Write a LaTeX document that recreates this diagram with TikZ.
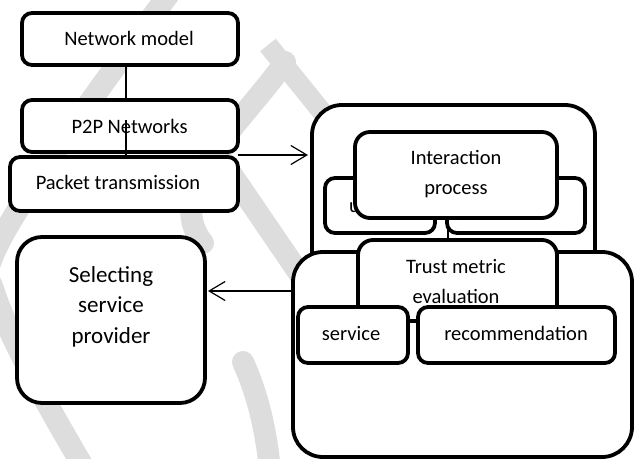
\documentclass[tikz,border=0pt]{standalone}
\usepackage{fontspec}
\setmainfont{Carlito}
\usetikzlibrary{arrows.meta}
\definecolor{wm}{RGB}{221,221,221}
\tikzset{
  box/.style={draw, line width=3.8pt, fill=white, rounded corners=#1,
    anchor=north west, inner sep=0pt, outer sep=0pt},
  box/.default=10pt,
  lbl/.style={font=\fontsize{20.5}{30}\selectfont, align=center, anchor=base, inner sep=0pt},
  biglbl/.style={font=\fontsize{23}{30.5}\selectfont, align=center, anchor=base, inner sep=0pt},
  link/.style={line width=1.4pt},
  flow/.style={line width=1.2pt, -{Straight Barb[length=16pt,width=19pt,line width=1.2pt]}},
  wmark/.style={draw=wm, line width=22pt},
}
\begin{document}
\begin{tikzpicture}[x=1pt, y=-1pt]
\useasboundingbox (0,0) rectangle (637,458);

% faint background logo
\begin{scope}
  \clip (0,0) rectangle (637,458);
  \draw[wmark] plot[smooth, tension=0.7] coordinates
    {(172,-10) (100,88) (38,178) (-8,258) (-6,292) (30,372) (84,468)};
  \draw[wmark, line width=20pt] (268,45) -- (335,128);
  \draw[wmark, line cap=round] (285,62) .. controls (245,120) and (160,190) .. (203,243);
  \draw[wmark] (215,150) -- (305,282);
  \draw[wmark, line cap=round] (243,362) .. controls (258,395) and (266,430) .. (270,470);
\end{scope}

% left column
\node[box, minimum width=216pt, minimum height=52pt] (netmodel) at (22,13) {};
\node[box, minimum width=216pt, minimum height=52pt] (p2p) at (22,100) {};
\node[box, minimum width=228pt, minimum height=54pt] (packet) at (10,157) {};
\node[box=25pt, minimum width=188pt, minimum height=166pt] (select) at (17,237) {};

% multi-line labels are placed by the baseline of their last line
\node[lbl] (netmodelT) at (129,45) {Network model};
\node[lbl] (p2pT) at (129.5,133) {P2P Networks};
\node[lbl] (packetT) at (118,189) {Packet transmission};
\node[biglbl] (selectT) at (111,343) {Selecting\\service\\provider};

\draw[link] ([xshift=-4pt]netmodel.south) -- ([xshift=-4pt]p2p.north);
\draw[link] ([xshift=2pt]packet.north) -- ([xshift=-4pt,yshift=6pt]p2p.center);

% right group: interaction stage
\node[box=30pt, minimum width=283pt, minimum height=195pt] (outer) at (312,105) {};
\node[box, minimum width=110pt, minimum height=55pt] (userbox) at (325,178) {};
\node[lbl, anchor=base west] (userT) at (349,212) {u};
\node[box, minimum width=138pt, minimum height=55pt] (sidebox) at (447,178) {};
\node[box=15pt, minimum width=202pt, minimum height=86pt] (inter) at (355,132) {};
\node[lbl] (interT) at (456,194) {Interaction\\process};

% right group: trust evaluation stage
\node[box=30pt, minimum width=339pt, minimum height=205pt] (lower) at (293,252) {};
\node[box=15pt, minimum width=199pt, minimum height=81pt] (trust) at (358,240) {};
\node[lbl] (trustT) at (456,303) {Trust metric\\evaluation};
\node[box, minimum width=110pt, minimum height=56pt] (service) at (298,307) {};
\node[box, minimum width=197pt, minimum height=56pt] (recommend) at (418,307) {};
\node[lbl] (serviceT) at (351,340) {service};
\node[lbl] (recommendT) at (516,340) {recommendation};

\draw[link, line width=1.2pt] ([xshift=-8pt]inter.south) -- ([xshift=-8pt]inter.south |- trust.north);

% flow arrows
\draw[flow] ([yshift=2pt]packet.north east) -- ([xshift=-4pt,yshift=2pt]packet.north east -| outer.west);
\draw[flow] ([yshift=29pt]select.east -| lower.west) -- ([xshift=3pt,yshift=29pt]select.east);
\end{tikzpicture}
\end{document}
